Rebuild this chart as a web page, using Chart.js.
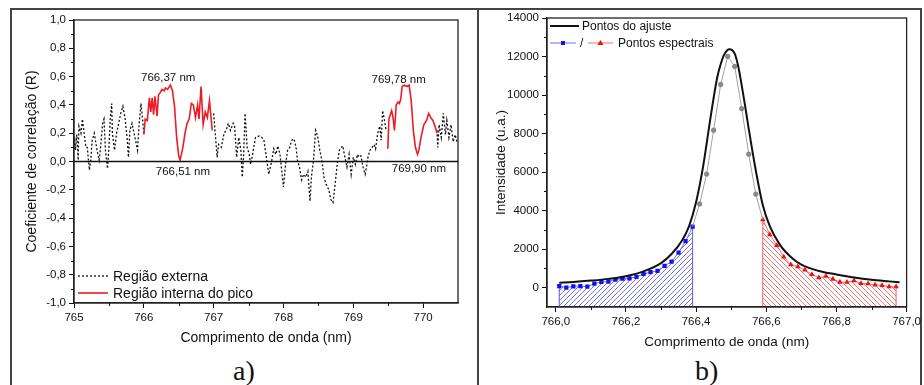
<!DOCTYPE html>
<html>
<head>
<meta charset="utf-8">
<script src="https://cdn.jsdelivr.net/npm/chart.js"></script>
<style>
  body { margin: 0; background: #fff; width: 924px; height: 385px; overflow: hidden; position: relative; }
  .quadro { position: absolute; left: 10px; top: 8px; width: 912px; height: 400px; border: 2px solid #444; box-sizing: border-box; }
  .divisor { position: absolute; left: 477px; top: 8px; height: 400px; border-left: 2px solid #444; }
  #graficoA { position: absolute; left: 12px; top: 0; }
  #graficoB { position: absolute; left: 480px; top: 0; }
  .letra { position: absolute; top: 357px; font-family: "Liberation Serif", "Times New Roman", serif; font-size: 28px; line-height: 28px; color: #111; }
</style>
</head>
<body>
<div class="quadro"></div>
<div class="divisor"></div>
<canvas id="graficoA" width="464" height="355"></canvas>
<canvas id="graficoB" width="444" height="355"></canvas>
<div class="letra" style="left:233px">a)</div>
<div class="letra" style="left:695px">b)</div>
<script>
// ---- a) coeficiente de correlacao ----
const externaWl1 = [765.00, 765.01, 765.02, 765.04, 765.06, 765.07, 765.10, 765.12, 765.14, 765.17, 765.19, 765.22, 765.24, 765.26, 765.29, 765.31, 765.33, 765.36, 765.38, 765.41, 765.43, 765.45, 765.48, 765.50, 765.52, 765.54, 765.55, 765.58, 765.61, 765.64, 765.67, 765.70, 765.73, 765.76, 765.78, 765.80, 765.83, 765.86, 765.89, 765.91, 765.93, 765.96, 765.98, 766.00];
const externaR1 = [0.12, 0.15, 0.08, 0.19, 0.01, 0.25, 0.20, 0.30, 0.22, 0.10, 0.10, -0.06, 0.01, 0.15, 0.20, 0.14, 0.08, 0.01, 0.10, 0.27, 0.30, 0.08, -0.05, 0.10, 0.31, 0.41, 0.20, 0.08, 0.20, 0.27, 0.34, 0.39, 0.31, 0.17, 0.03, 0.22, 0.27, 0.20, 0.13, 0.08, 0.25, 0.41, 0.31, 0.20];
const externaWl2 = [767.00, 767.05, 767.07, 767.11, 767.15, 767.18, 767.21, 767.24, 767.28, 767.30, 767.33, 767.36, 767.39, 767.41, 767.43, 767.45, 767.48, 767.51, 767.53, 767.55, 767.60, 767.65, 767.69, 767.72, 767.755, 767.79, 767.83, 767.86, 767.89, 767.92, 767.95, 767.97, 768.00, 768.03, 768.06, 768.09, 768.12, 768.15, 768.18, 768.20, 768.23, 768.26, 768.29, 768.32, 768.35, 768.38, 768.40, 768.43, 768.46, 768.49, 768.52, 768.55, 768.58, 768.61, 768.65, 768.68, 768.71, 768.74, 768.77, 768.80, 768.83, 768.85, 768.88, 768.91, 768.94, 768.97, 769.00, 769.03, 769.06, 769.08, 769.11, 769.14, 769.17, 769.19, 769.21, 769.24, 769.27, 769.30, 769.32, 769.35, 769.38, 769.40, 769.42, 769.44, 769.47];
const externaR2 = [0.34, 0.03, 0.12, 0.10, 0.20, 0.22, 0.27, 0.22, 0.27, 0.25, 0.03, 0.17, 0.08, -0.11, 0.05, 0.34, 0.10, 0.05, -0.02, 0.03, 0.17, 0.18, 0.17, 0.15, 0.03, -0.09, 0.00, 0.09, 0.05, 0.11, 0.05, -0.04, -0.18, -0.02, 0.08, 0.10, 0.15, 0.16, 0.10, 0.01, -0.04, -0.13, -0.09, -0.11, -0.07, -0.28, -0.11, 0.01, 0.22, 0.18, 0.08, 0.01, -0.11, -0.16, -0.20, -0.27, -0.29, -0.16, -0.02, 0.08, 0.10, 0.11, 0.03, -0.04, 0.05, -0.09, 0.03, -0.02, 0.05, 0.03, 0.04, -0.04, -0.09, -0.04, 0.03, 0.08, 0.10, 0.12, 0.09, 0.20, 0.25, 0.15, 0.36, 0.31, 0.22];
const externaWl3 = [770.20, 770.21, 770.23, 770.26, 770.29, 770.32, 770.34, 770.37, 770.40, 770.43, 770.46, 770.49];
const externaR3 = [0.22, 0.10, 0.26, 0.17, 0.34, 0.19, 0.29, 0.17, 0.26, 0.14, 0.19, 0.13];
const internaWl1 = [766.00, 766.02, 766.05, 766.08, 766.10, 766.12, 766.14, 766.16, 766.19, 766.21, 766.24, 766.26, 766.29, 766.31, 766.34, 766.38, 766.41, 766.44, 766.47, 766.50, 766.52, 766.56, 766.59, 766.62, 766.65, 766.68, 766.71, 766.74, 766.77, 766.79, 766.82, 766.85, 766.88, 766.91, 766.94, 766.98];
const internaR1 = [0.19, 0.30, 0.29, 0.45, 0.35, 0.45, 0.33, 0.46, 0.32, 0.47, 0.49, 0.51, 0.50, 0.52, 0.51, 0.54, 0.50, 0.39, 0.17, 0.04, 0.01, 0.10, 0.20, 0.27, 0.30, 0.41, 0.40, 0.31, 0.40, 0.30, 0.53, 0.26, 0.35, 0.31, 0.43, 0.22];
const internaWl2 = [769.495, 769.51, 769.55, 769.57, 769.59, 769.615, 769.64, 769.66, 769.68, 769.70, 769.73, 769.77, 769.80, 769.83, 769.86, 769.89, 769.92, 769.94, 769.97, 770.01, 770.05, 770.08, 770.11, 770.14, 770.17, 770.20];
const internaR2 = [0.09, 0.30, 0.36, 0.31, 0.22, 0.40, 0.42, 0.41, 0.44, 0.53, 0.54, 0.53, 0.54, 0.43, 0.22, 0.10, 0.05, 0.08, 0.17, 0.26, 0.29, 0.34, 0.31, 0.29, 0.25, 0.20];
const ticksXA = [765, 766, 767, 768, 769, 770];
const menoresXA = [765.5, 766.5, 767.5, 768.5, 769.5];
const ticksYA = [-1, -0.8, -0.6, -0.4, -0.2, 0, 0.2, 0.4, 0.6, 0.8, 1];
const menoresYA = [-0.9, -0.7, -0.5, -0.3, -0.1, 0.1, 0.3, 0.5, 0.7, 0.9];
const notasTexto = ['766,37 nm', '766,51 nm', '769,78 nm', '769,90 nm'];
const notasX = [766.35, 766.56, 769.65, 769.94];
const notasY = [0.59, -0.07, 0.58, -0.05];

// ---- b) intensidade ----
const ajusteWl = [766.01, 766.05, 766.10, 766.15, 766.20, 766.25, 766.30, 766.33, 766.36, 766.38, 766.40, 766.42, 766.44, 766.46, 766.47, 766.48, 766.495, 766.51, 766.52, 766.53, 766.54, 766.55, 766.57, 766.59, 766.61, 766.64, 766.67, 766.70, 766.75, 766.80, 766.85, 766.90, 766.95, 766.98];
const ajusteI = [265, 300, 370, 460, 600, 850, 1280, 1750, 2450, 3200, 4450, 6300, 8700, 10900, 11600, 12100, 12380, 12150, 11500, 10500, 9400, 8250, 6100, 4300, 3200, 2200, 1600, 1200, 870, 690, 530, 410, 330, 285];
const azulWl = [766.01, 766.03, 766.05, 766.07, 766.09, 766.11, 766.13, 766.15, 766.17, 766.19, 766.21, 766.23, 766.25, 766.27, 766.29, 766.31, 766.33, 766.35, 766.37, 766.39];
const azulI = [87, 5, 70, 87, 52, 210, 300, 313, 420, 470, 490, 560, 715, 815, 870, 1130, 1355, 1825, 2420, 3170];
const cinzaWl = [766.41, 766.43, 766.45, 766.47, 766.49, 766.51, 766.53, 766.55, 766.57];
const cinzaI = [4350, 5900, 8180, 10550, 12010, 11490, 9300, 6930, 4860];
const vermelhoWl = [766.59, 766.61, 766.63, 766.65, 766.67, 766.69, 766.71, 766.73, 766.75, 766.77, 766.79, 766.81, 766.83, 766.85, 766.87, 766.89, 766.91, 766.93, 766.95, 766.97];
const vermelhoI = [3540, 2760, 2200, 1600, 1200, 1095, 920, 690, 520, 600, 450, 295, 290, 365, 225, 210, 150, 120, 60, 50];
const ticksXB = [766.0, 766.2, 766.4, 766.6, 766.8, 767.0];
const menoresXB = [766.1, 766.3, 766.5, 766.7, 766.9];
const ticksYB = [0, 2000, 4000, 6000, 8000, 10000, 12000, 14000];
const menoresYB = [1000, 3000, 5000, 7000, 9000, 11000, 13000];

const fonte = '"Liberation Sans", Arial, sans-serif';
Chart.defaults.font.family = fonte;
Chart.defaults.color = '#111';

function pontos(xs, ys) {
    return xs.map((x, i) => ({ x: x, y: ys[i] }));
}

// junta varios trechos, com um ponto nulo entre eles para cortar a linha
function trechos(lista) {
    let out = [];
    lista.forEach((t, k) => {
        if (k > 0) out.push({ x: t[0][0], y: null });
        out = out.concat(pontos(t[0], t[1]));
    });
    return out;
}

function virgula(v, casas) {
    const s = v.toFixed(casas).replace('.', ',');
    return s === '-0,0' ? '0,0' : s;
}

function hachura(canvasId, cor, sentido) {
    const n = 5;
    const c = document.createElement('canvas');
    c.width = n; c.height = n;
    const g = c.getContext('2d');
    g.strokeStyle = cor;
    g.lineWidth = 0.8;
    g.beginPath();
    if (sentido > 0) {
        g.moveTo(0, n); g.lineTo(n, 0);
        g.moveTo(-1, 1); g.lineTo(1, -1);
        g.moveTo(n - 1, n + 1); g.lineTo(n + 1, n - 1);
    } else {
        g.moveTo(0, 0); g.lineTo(n, n);
        g.moveTo(n - 1, -1); g.lineTo(n + 1, 1);
        g.moveTo(-1, n - 1); g.lineTo(1, n + 1);
    }
    g.stroke();
    return document.getElementById(canvasId).getContext('2d').createPattern(c, 'repeat');
}

const moldura = {
    id: 'moldura',
    afterDraw(chart) {
        const { ctx, chartArea: a } = chart;
        ctx.save();
        ctx.strokeStyle = '#222';
        ctx.lineWidth = 1.3;
        ctx.strokeRect(a.left, a.top, a.right - a.left, a.bottom - a.top);
        ctx.restore();
    }
};

function tracosMenores(xs, ys) {
    return {
        id: 'menores',
        afterDraw(chart) {
            const { ctx, chartArea: a, scales } = chart;
            ctx.save();
            ctx.strokeStyle = '#111';
            ctx.lineWidth = 1;
            ctx.beginPath();
            xs.forEach(v => {
                const px = Math.round(scales.x.getPixelForValue(v)) + 0.5;
                ctx.moveTo(px, a.bottom); ctx.lineTo(px, a.bottom + 3);
            });
            ys.forEach(v => {
                const py = Math.round(scales.y.getPixelForValue(v)) + 0.5;
                ctx.moveTo(a.left - 3, py); ctx.lineTo(a.left, py);
            });
            ctx.stroke();
            ctx.restore();
        }
    };
}

function eixo(ticks, fmt, extra) {
    return Object.assign({
        type: 'linear',
        afterBuildTicks: s => { s.ticks = ticks.map(v => ({ value: v })); },
        ticks: { callback: fmt, font: { size: 11.5 }, color: '#111', maxRotation: 0, autoSkip: false },
        grid: { drawOnChartArea: false, color: '#111', tickLength: 5, lineWidth: 1 },
        border: { color: '#222', width: 1.3 }
    }, extra);
}

// ----------------- grafico a -----------------
const anotacoesA = {
    id: 'anotacoesA',
    afterDraw(chart) {
        const { ctx, chartArea: a, scales } = chart;
        const ds = chart.data.datasets;
        ctx.save();
        // linha do zero
        const y0 = scales.y.getPixelForValue(0);
        ctx.strokeStyle = '#111';
        ctx.lineWidth = 1.5;
        ctx.beginPath(); ctx.moveTo(a.left, y0); ctx.lineTo(a.right, y0); ctx.stroke();
        // rotulos dos picos
        ctx.fillStyle = '#111';
        ctx.font = '11.5px ' + fonte;
        ctx.textAlign = 'center';
        ctx.textBaseline = 'middle';
        notasTexto.forEach((t, i) => {
            ctx.fillText(t, scales.x.getPixelForValue(notasX[i]), scales.y.getPixelForValue(notasY[i]));
        });
        // legenda
        ctx.textAlign = 'left';
        ctx.font = '14px ' + fonte;
        [[ds[1], a.bottom - 27], [ds[0], a.bottom - 10]].forEach(([d, y]) => {
            ctx.strokeStyle = d.borderColor;
            ctx.lineWidth = d.borderWidth;
            ctx.setLineDash(d.borderDash || []);
            ctx.beginPath(); ctx.moveTo(a.left + 4, y); ctx.lineTo(a.left + 34, y); ctx.stroke();
            ctx.setLineDash([]);
            ctx.fillText(d.label, a.left + 39, y + 1);
        });
        ctx.restore();
    }
};

new Chart(document.getElementById('graficoA'), {
    type: 'line',
    data: {
        datasets: [
            {
                label: 'Região interna do pico',
                data: trechos([[internaWl1, internaR1], [internaWl2, internaR2]]),
                borderColor: '#ec1c24',
                borderWidth: 1.6,
                pointRadius: 0,
                fill: false
            },
            {
                label: 'Região externa',
                data: trechos([[externaWl1, externaR1], [externaWl2, externaR2], [externaWl3, externaR3]]),
                borderColor: '#111',
                borderWidth: 1.3,
                borderDash: [2, 2],
                pointRadius: 0,
                fill: false
            }
        ]
    },
    options: {
        responsive: false,
        animation: false,
        layout: { padding: { top: 20, right: 18, left: 0, bottom: 0 } },
        plugins: { legend: { display: false }, tooltip: { enabled: false } },
        scales: {
            x: eixo(ticksXA, v => String(v), {
                min: 765, max: 770.5,
                afterFit: s => { s.height = 52; },
                title: { display: true, text: 'Comprimento de onda (nm)', font: { size: 14 }, color: '#111', padding: { top: 0, bottom: 8 } }
            }),
            y: eixo(ticksYA, v => virgula(v, 1), {
                min: -1, max: 1,
                afterFit: s => { s.width = 62; },
                title: { display: true, text: 'Coeficiente de correlação (R)', font: { size: 14 }, color: '#111', padding: { top: 12, bottom: 0 } }
            })
        }
    },
    plugins: [moldura, tracosMenores(menoresXA, menoresYA), anotacoesA]
});

// ----------------- grafico b -----------------
const yMinB = -1000;
const azulPts = pontos(azulWl, azulI);
const vermelhoPts = pontos(vermelhoWl, vermelhoI);
const cinzaPts = [azulPts[azulPts.length - 1]].concat(pontos(cinzaWl, cinzaI), [vermelhoPts[0]]);

function bordas(pts) {
    const p0 = pts[0], p1 = pts[pts.length - 1];
    return [{ x: p0.x, y: yMinB }, { x: p0.x, y: p0.y }, { x: p0.x, y: null }, { x: p1.x, y: yMinB }, { x: p1.x, y: p1.y }];
}

const legendaB = {
    id: 'legendaB',
    afterDraw(chart) {
        const { ctx, chartArea: a } = chart;
        const x0 = a.left;
        ctx.save();
        ctx.font = '12px ' + fonte;
        ctx.fillStyle = '#111';
        ctx.textBaseline = 'middle';
        ctx.lineWidth = 2;
        ctx.strokeStyle = '#111';
        ctx.beginPath(); ctx.moveTo(x0 + 3, 26); ctx.lineTo(x0 + 32, 26); ctx.stroke();
        ctx.fillText('Pontos do ajuste', x0 + 35, 27);
        // azul
        ctx.lineWidth = 1;
        ctx.strokeStyle = '#6b6bff';
        ctx.beginPath(); ctx.moveTo(x0 + 3, 43); ctx.lineTo(x0 + 29, 43); ctx.stroke();
        ctx.fillStyle = '#1010f0';
        ctx.fillRect(x0 + 14, 41, 4, 4);
        ctx.fillStyle = '#111';
        ctx.fillText('/', x0 + 33, 44);
        // vermelho
        ctx.strokeStyle = '#ff6b6b';
        ctx.beginPath(); ctx.moveTo(x0 + 41, 43); ctx.lineTo(x0 + 66, 43); ctx.stroke();
        ctx.fillStyle = '#f01010';
        ctx.beginPath(); ctx.moveTo(x0 + 53.5, 40); ctx.lineTo(x0 + 56.5, 45); ctx.lineTo(x0 + 50.5, 45); ctx.closePath(); ctx.fill();
        ctx.fillStyle = '#111';
        ctx.fillText('Pontos espectrais', x0 + 71, 44);
        ctx.restore();
    }
};

new Chart(document.getElementById('graficoB'), {
    type: 'line',
    data: {
        datasets: [
            {
                label: 'Pontos do ajuste',
                data: pontos(ajusteWl, ajusteI),
                borderColor: '#111',
                borderWidth: 2,
                pointRadius: 0,
                cubicInterpolationMode: 'monotone',
                fill: false
            },
            {
                label: 'cinza',
                data: cinzaPts,
                borderColor: '#a0a0a0',
                borderWidth: 1,
                pointRadius: c => (c.dataIndex === 0 || c.dataIndex === cinzaPts.length - 1) ? 0 : 2.6,
                pointBackgroundColor: '#8a8a8a',
                pointBorderWidth: 0,
                fill: false
            },
            {
                label: 'azul',
                data: azulPts,
                borderColor: '#6b6bff',
                borderWidth: 1,
                pointStyle: 'rect',
                pointRadius: 3,
                pointBackgroundColor: '#1010f0',
                pointBorderColor: '#1010f0',
                pointBorderWidth: 0,
                backgroundColor: hachura('graficoB', 'rgba(50,50,235,0.85)', 1),
                fill: 'start'
            },
            {
                label: 'vermelho',
                data: vermelhoPts,
                borderColor: '#ff6b6b',
                borderWidth: 1,
                pointStyle: 'triangle',
                pointRadius: 3.2,
                pointBackgroundColor: '#f01010',
                pointBorderColor: '#f01010',
                pointBorderWidth: 0,
                backgroundColor: hachura('graficoB', 'rgba(225,55,55,0.85)', -1),
                fill: 'start'
            },
            {
                label: 'borda azul',
                data: bordas(azulPts),
                borderColor: '#5a5aff',
                borderWidth: 1,
                pointRadius: 0,
                fill: false
            },
            {
                label: 'borda vermelha',
                data: bordas(vermelhoPts),
                borderColor: '#ff5a5a',
                borderWidth: 1,
                pointRadius: 0,
                fill: false
            }
        ]
    },
    options: {
        responsive: false,
        animation: false,
        layout: { padding: { top: 18, right: 16, left: 0, bottom: 0 } },
        plugins: { legend: { display: false }, tooltip: { enabled: false } },
        scales: {
            x: eixo(ticksXB, v => virgula(v, 1), {
                min: 765.975, max: 767.0,
                afterFit: s => { s.height = 48; },
                title: { display: true, text: 'Comprimento de onda (nm)', font: { size: 13.5 }, color: '#111', padding: { top: 0, bottom: 5 } }
            }),
            y: eixo(ticksYB, v => String(v), {
                min: yMinB, max: 14000,
                afterFit: s => { s.width = 67; },
                title: { display: true, text: 'Intensidade (u.a.)', font: { size: 13.5 }, color: '#111', padding: { top: 13, bottom: 0 } }
            })
        }
    },
    plugins: [moldura, tracosMenores(menoresXB, menoresYB), legendaB]
});
</script>
</body>
</html>
